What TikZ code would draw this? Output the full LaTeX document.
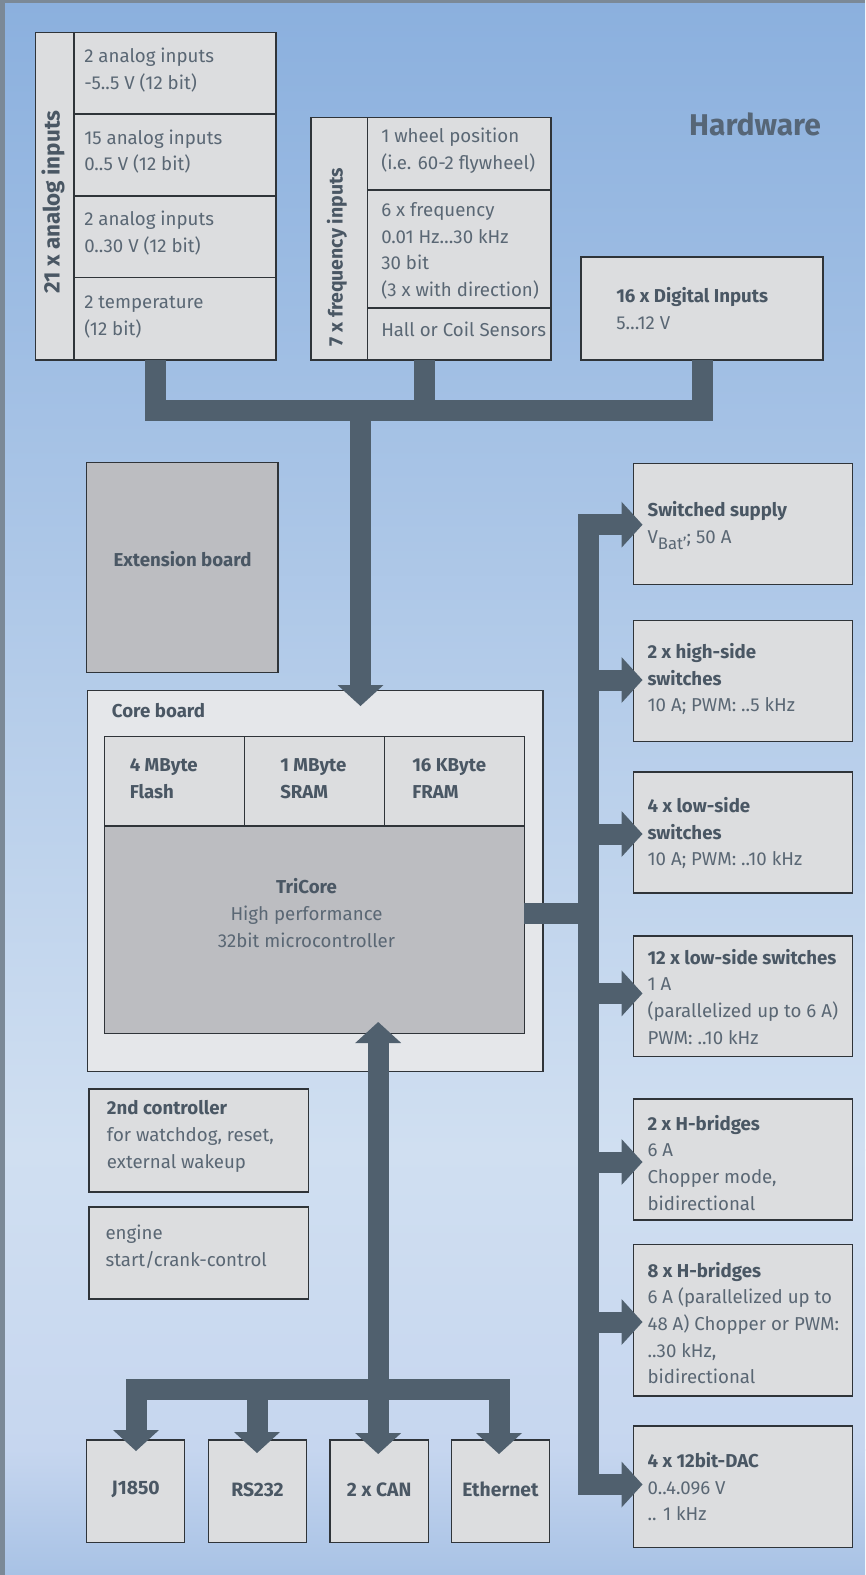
\documentclass[tikz,border=0pt]{standalone}
\usepackage{fontspec}
\setmainfont{Fira Sans}
\usetikzlibrary{arrows.meta,fit,calc}
\definecolor{bgtop}{HTML}{8BB0DE}
\definecolor{bgmid}{HTML}{D0DFF1}
\definecolor{bglow}{HTML}{C6D6EF}
\definecolor{bgbot}{HTML}{A8C2E5}
\definecolor{framec}{HTML}{7B8997}
\definecolor{boxfill}{HTML}{DCDDDF}
\definecolor{corefill}{HTML}{E5E7EA}
\definecolor{darkfill}{HTML}{BCBDC1}
\definecolor{boxline}{HTML}{2F3439}
\definecolor{busc}{HTML}{50606E}
\definecolor{txtc}{HTML}{5A6774}
\definecolor{htxt}{HTML}{4A5764}
\definecolor{titlec}{HTML}{566677}
\newcommand{\hd}[1]{{\bfseries\color{htxt}#1}}
\newcommand{\cellbox}[6][]{\node[cell,#1,fit={(#3,#4)(#5,#6)}] (#2) {};}
\tikzset{
  cell/.style={draw=boxline, fill=boxfill, line width=1.1pt, inner sep=0pt, outer sep=0pt},
  darkcell/.style={fill=darkfill},
  corecell/.style={fill=corefill},
  txt/.style={inner sep=0pt, anchor=west, align=left, text=txtc, font=\fontsize{14}{20}\selectfont},
  ctxt/.style={inner sep=0pt, align=center, text=txtc, font=\fontsize{14}{20}\selectfont},
  rottxt/.style={inner sep=0pt, rotate=90, text=htxt, font=\fontsize{15.5}{20}\selectfont\bfseries},
  bus/.style={draw=busc, line width=15.75pt, line join=miter, line cap=butt},
  bh/.tip={Triangle[width=34.5pt,length=15.75pt,line width=0pt]}
}
\begin{document}
\begin{tikzpicture}[x=0.75pt,y=-0.75pt]
\useasboundingbox (0,0) rectangle (865,1575);
% background
\fill[top color=bgtop, bottom color=bgmid] (0,0) rectangle (865,1150);
\fill[top color=bgmid, bottom color=bglow] (0,1149.5) rectangle (865,1450);
\fill[top color=bglow, bottom color=bgbot] (0,1449.5) rectangle (865,1575);
\fill[framec] (0,0) rectangle (5,1575);
\fill[framec] (0,0) rectangle (865,3);

% title
\node[inner sep=0pt, text=titlec, font=\fontsize{22.5}{26}\selectfont\bfseries] (title) at (755,124) {Hardware};

% analog inputs block
\cellbox{analbl}{35.7}{32.7}{74}{360}
\cellbox{ana1}{74}{32.7}{276}{114}
\cellbox{ana2}{74}{114}{276}{196}
\cellbox{ana3}{74}{196}{276}{277.7}
\cellbox{ana4}{74}{277.7}{276}{360}
\node[rottxt, font=\fontsize{16.8}{20}\selectfont\bfseries] (t-anal) at (53,202) {21 x analog inputs};
\node[txt] (t-a1) at (84,70) {2 analog inputs\\-5..5 V (12 bit)};
\node[txt] (t-a2) at (84,151.7) {15 analog inputs\\0..5 V (12 bit)};
\node[txt] (t-a3) at (84,233.3) {2 analog inputs\\0..30 V (12 bit)};
\node[txt] (t-a4) at (84,316.7) {2 temperature\\(12 bit)};

% frequency inputs block
\cellbox{freqlbl}{310.8}{117.7}{367.7}{360}
\cellbox{freq1}{367.7}{117.7}{551}{190}
\cellbox{freq2}{367.7}{190}{551}{308}
\cellbox{freq3}{367.7}{308}{551}{360}
\node[rottxt, font=\fontsize{14.6}{20}\selectfont\bfseries] (t-freql) at (337,257) {7 x frequency inputs};
\node[txt] (t-f1) at (381,150.5) {1 wheel position\\(i.e. 60-2 flywheel)};
\node[txt] (t-f2) at (381,251) {6 x frequency\\0.01 Hz…30 kHz\\30 bit\\(3 x with direction)};
\node[txt] (t-f3) at (381,329) {Hall or Coil Sensors};

% digital inputs
\cellbox{dig}{581}{257}{823}{360}
\node[txt] (t-dig) at (616,308.5) {\hd{16 x Digital Inputs}\\5…12 V};

% extension board
\cellbox[darkcell]{ext}{86.7}{462.3}{278}{672.7}
\node[ctxt, font=\fontsize{14}{20}\selectfont\bfseries, text=htxt] (t-ext) at (182.5,559) {Extension board};

% core board
\cellbox[corecell]{core}{87.3}{690.3}{543}{1071.7}
\node[txt] (t-core) at (111.7,711) {\hd{Core board}};
\cellbox{mem1}{104.3}{736.7}{244.7}{826}
\cellbox{mem2}{244.7}{736.7}{384.7}{826}
\cellbox{mem3}{384.7}{736.7}{524.3}{826}
\node[txt] (t-m1) at (129.5,778.5) {\hd{4 MByte}\\\hd{Flash}};
\node[txt] (t-m2) at (280,778.5) {\hd{1 MByte}\\\hd{SRAM}};
\node[txt] (t-m3) at (412,778.5) {\hd{16 KByte}\\\hd{FRAM}};
\cellbox[darkcell]{tri}{104.3}{826}{524.3}{1033.3}
\node[ctxt] (t-tri) at (306.5,913) {\hd{TriCore}\\High performance\\32bit microcontroller};

% second controller, engine
\cellbox{ctl2}{89}{1089}{308.7}{1192}
\node[txt] (t-ctl2) at (106.7,1136.4) {\hd{2nd controller}\\for watchdog, reset,\\external wakeup};
\cellbox{eng}{89}{1207}{308.7}{1299}
\node[txt] (t-eng) at (105.3,1247) {engine\\start/crank-control};

% outputs
\cellbox{sup}{633.3}{463.3}{852.3}{584.7}
\cellbox{hs}{633.3}{620.7}{852.3}{741.3}
\cellbox{lsa}{633.3}{772}{852.3}{893}
\cellbox{lsb}{633.3}{936}{852.3}{1056.7}
\cellbox{hba}{633.3}{1099}{852.3}{1220}
\cellbox{hbb}{633.3}{1244.3}{852.3}{1396}
\cellbox{dac}{633.3}{1426}{852.3}{1547.3}
\node[txt] (t-sup) at (647.3,525.7) {\hd{Switched supply}\\V\raisebox{-0.6ex}{\fontsize{12.5}{14}\selectfont Bat’}; 50 A};
\node[txt] (t-hs) at (647.3,679) {\hd{2 x high-side}\\\hd{switches}\\10 A; PWM: ..5 kHz};
\node[txt] (t-lsa) at (647.3,833.3) {\hd{4 x low-side}\\\hd{switches}\\10 A; PWM: ..10 kHz};
\node[txt] (t-lsb) at (647.3,996.7) {\hd{12 x low-side switches}\\1 A\\(parallelized up to 6 A)\\PWM: ..10 kHz};
\node[txt] (t-hba) at (647.3,1162.6) {\hd{2 x H-bridges}\\6 A\\Chopper mode,\\bidirectional};
\node[txt] (t-hbb) at (647.3,1323) {\hd{8 x H-bridges}\\6 A (parallelized up to\\48 A) Chopper or PWM:\\..30 kHz,\\bidirectional};
\node[txt] (t-dac) at (647.3,1486.7) {\hd{4 x 12bit-DAC}\\0..4.096 V\\.. 1 kHz};

% communication
\cellbox{jb}{86.7}{1440}{184.7}{1542.3}
\cellbox{rs}{208.3}{1440}{306.7}{1542.3}
\cellbox{can}{330}{1440}{428.3}{1542.3}
\cellbox{eth}{451.3}{1440}{549.7}{1542.3}
\node[ctxt, anchor=center, font=\fontsize{14.5}{20}\selectfont] (t-jb) at (jb.center |- 0,1489.3) {\hd{J1850}};
\node[ctxt, anchor=center, font=\fontsize{14.5}{20}\selectfont] (t-rs) at (rs.center |- 0,1489.3) {\hd{RS232}};
\node[ctxt, anchor=center, font=\fontsize{14.5}{20}\selectfont] (t-can) at (can.center |- 0,1489.3) {\hd{2 x CAN}};
\node[ctxt, anchor=center, font=\fontsize{14.5}{20}\selectfont] (t-eth) at (eth.center |- 0,1489.3) {\hd{Ethernet}};

% input bus
\coordinate (jA) at (155.5,410);
\coordinate (jF) at (424.5,410);
\coordinate (jD) at (702.5,410);
\coordinate (jM) at (360.5,410);
\draw[bus] (ana4.south -| jA) -- (jA) -- (jD) -- (dig.south -| jD);
\draw[bus] (freq3.south -| jF) -- (jF);
\draw[bus,-{bh}] (jM) -- (360.5,706);

% output bus
\coordinate (oT) at (588.3,524.7);
\coordinate (oB) at (588.3,1484.5);
\draw[bus] (tri.east |- 0,913.5) -- (oT |- 0,913.5);
\draw[bus,{bh}-{bh}] (sup.west |- oT) ++(9.2,0) -- (oT) -- (oB) -- ($(dac.west |- oB)+(9.2,0)$);
\foreach \yy/\nm in {680/hs,834/lsa,993.4/lsb,1162/hba,1322/hbb}
  \draw[bus,-{bh}] (oT |- 0,\yy) -- ($(\nm.west |- 0,\yy)+(9.2,0)$);

% communication bus
\coordinate (cJ) at (136,1389.7);
\coordinate (cR) at (257,1389.7);
\coordinate (cC) at (378.2,1389.7);
\coordinate (cE) at (499,1389.7);
\draw[bus,{bh}-{bh}] ($(jb.north -| cJ)+(0,11)$) -- (cJ) -- (cE) -- ($(eth.north -| cE)+(0,14)$);
\draw[bus,-{bh}] (cR) -- ($(rs.north -| cR)+(0,13)$);
\draw[bus,{bh}-{bh}] ($(tri.south -| cC)+(0,-11.3)$) -- ($(can.north -| cC)+(0,14)$);
\end{tikzpicture}
\end{document}
